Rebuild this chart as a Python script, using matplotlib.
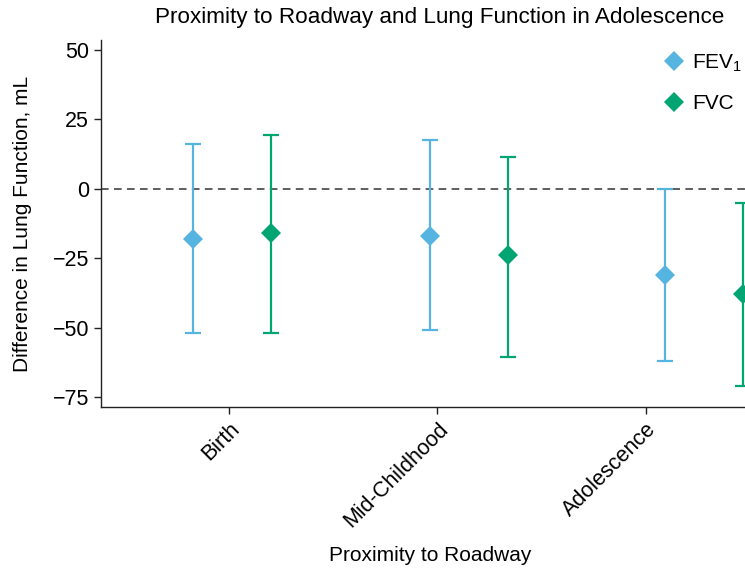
import matplotlib
matplotlib.use("Agg")
import matplotlib.pyplot as plt
import matplotlib.transforms as mtransforms
import numpy as np

plt.rcParams['font.family'] = ['Liberation Sans', 'DejaVu Sans']
plt.rcParams['mathtext.fontset'] = 'custom'
plt.rcParams['mathtext.rm'] = 'Liberation Sans'
plt.rcParams['mathtext.it'] = 'Liberation Sans'

# ---- data ----
categories = ["Birth", "Mid-Childhood", "Adolescence"]
fev_est = [-18, -17, -31]
fev_lo = [-52, -51, -62]
fev_hi = [16, 17.5, 0]
fvc_est = [-16, -24, -38]
fvc_lo = [-52, -60.5, -71]
fvc_hi = [19.5, 11.5, -5]
series_labels = ["FEV$_1$", "FVC"]
yticks = [50, 25, 0, -25, -50, -75]

# ---- layout ----
W, H = 745, 572
fig = plt.figure(figsize=(W / 100, H / 100), dpi=100)
ax = fig.add_axes([101 / W, 1 - 407 / H, 678 / W, 367 / H])

tick_pos = np.array([1.0, 2.0, 3.0])
group_pos = np.array([1.014, 2.151, 3.278])
dodge = 0.187

colors = ["#56B4E0", "#00A572"]
series = [(fev_est, fev_lo, fev_hi), (fvc_est, fvc_lo, fvc_hi)]
offsets = [-dodge, dodge]
handles = []
for (est, lo, hi), off, col, lab in zip(series, offsets, colors, series_labels):
    est = np.array(est, float)
    yerr = [est - np.array(lo), np.array(hi) - est]
    ax.errorbar(group_pos + off, est, yerr=yerr, fmt='none', ecolor=col,
                elinewidth=1.6, capsize=5.8, capthick=1.6, zorder=2)
    h, = ax.plot(group_pos + off, est, linestyle='none', marker='D',
                 markersize=10.5, color=col, markeredgewidth=0, zorder=3, label=lab)
    handles.append(h)

ax.axhline(0, color='#333333', linestyle=(0, (5, 3.5)), linewidth=1.1, zorder=1)

ax.set_xlim(0.386, 3.638)
ax.set_ylim(-78.6, 53.6)
ax.set_yticks(yticks)
ax.set_yticklabels([str(v).replace('-', '\u2212') for v in yticks])
ax.set_xticks(tick_pos)
ax.set_xticklabels(categories, rotation=45, ha='right', rotation_mode='anchor')

for s in ['top', 'right']:
    ax.spines[s].set_visible(False)
for s in ['left', 'bottom']:
    ax.spines[s].set_linewidth(1.0)
    ax.spines[s].set_color('#222222')
ax.tick_params(axis='both', labelsize=15.5, length=5, width=1.0, color='#222222')

ax.set_title("Proximity to Roadway and Lung Function in Adolescence", fontsize=16.2, pad=12)
ax.set_ylabel("Difference in Lung Function, mL", fontsize=15, labelpad=15)
ax.set_xlabel("Proximity to Roadway", fontsize=15)
pix = mtransforms.Affine2D().scale(1, -1).translate(0, H)
ax.xaxis.set_label_coords(430, 546, transform=pix)

leg = fig.legend(handles=handles, loc='upper left', bbox_to_anchor=(655 / W, 1 - 44 / H),
                 frameon=False, fontsize=15, handlelength=1.0, handletextpad=0.4,
                 labelspacing=1.0, borderaxespad=0.0, borderpad=0.4)

fig.savefig("out.png", dpi=100)
